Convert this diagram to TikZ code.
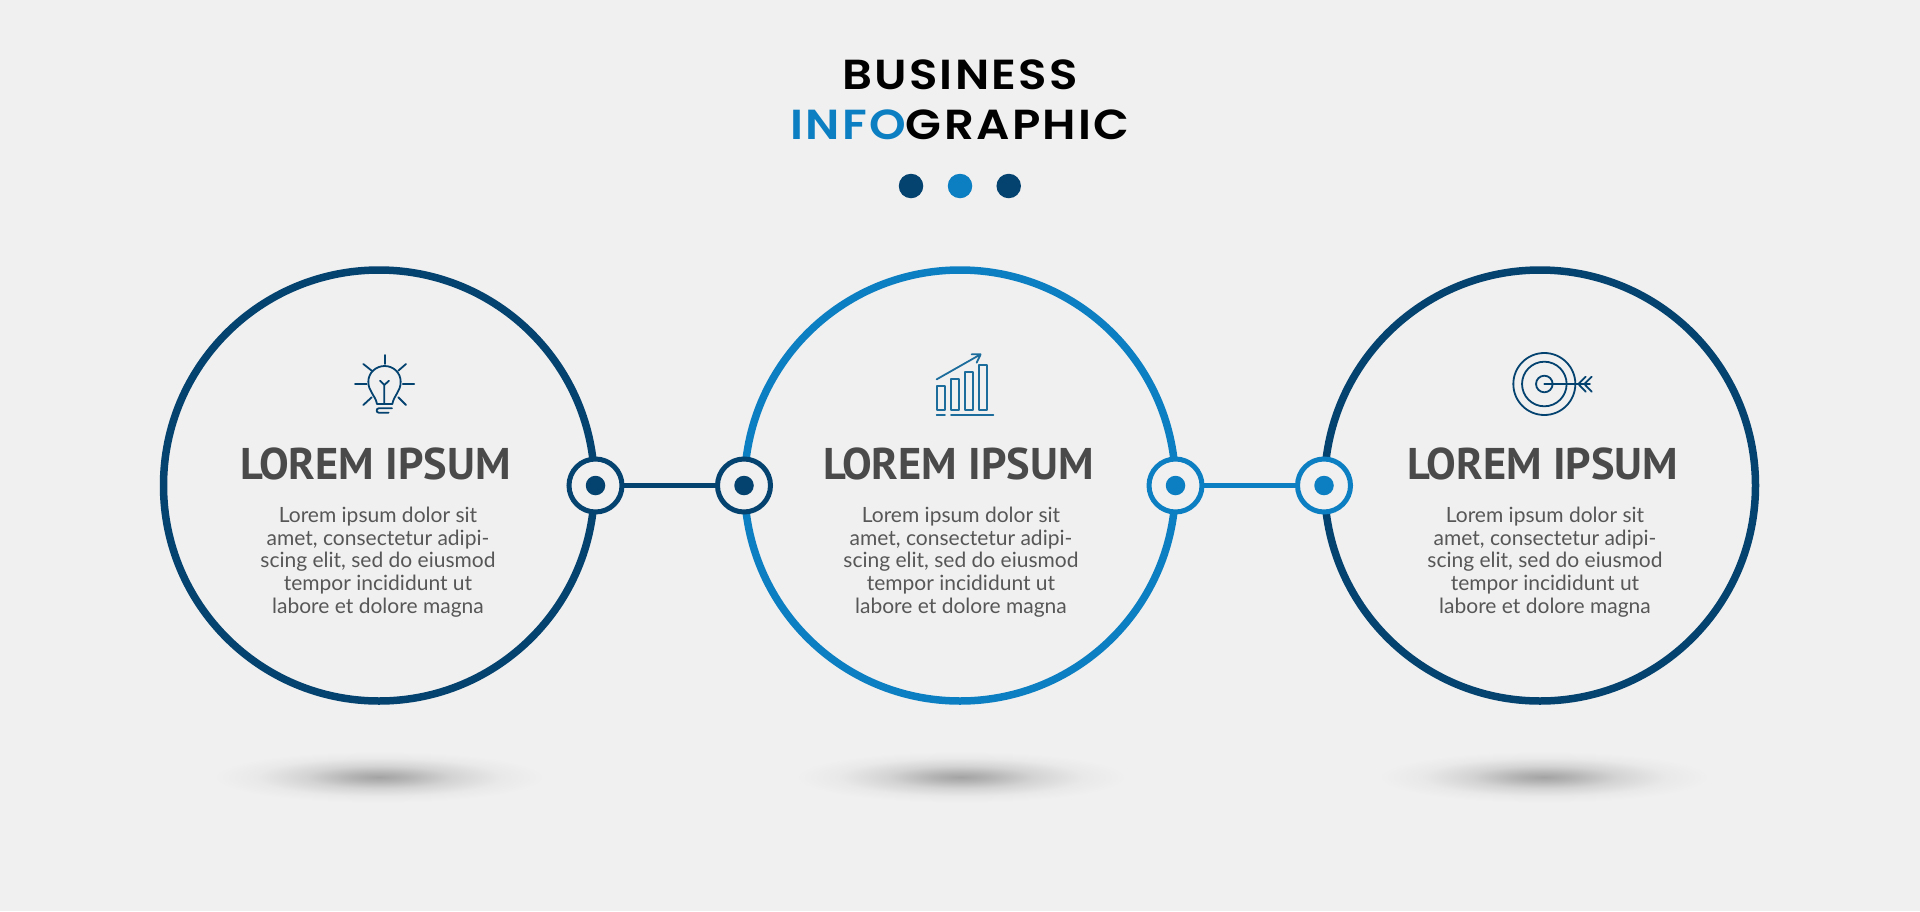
\documentclass[tikz,border=0pt]{standalone}
\usepackage{fontspec}
\setmainfont{Lato}
\newfontfamily\titlefont[LetterSpace=5]{Poppins SemiBold}
\newfontfamily\headfont{PT Sans}
\definecolor{bgc}{HTML}{F0F0F0}
\definecolor{navy}{HTML}{04426F}
\definecolor{sky}{HTML}{0C7FC2}
\definecolor{headc}{HTML}{4A4A4A}
\definecolor{bodyc}{HTML}{575757}
\definecolor{iconb}{HTML}{1C6D9C}
\pgfdeclareradialshading{softshadow}{\pgfpointorigin}{
  color(0bp)=(black!32!bgc);
  color(4bp)=(black!25!bgc);
  color(10bp)=(black!12!bgc);
  color(17bp)=(black!3!bgc);
  color(23bp)=(bgc);
  color(25bp)=(bgc)}
\newcommand{\titlescale}[1]{\scalebox{1.11}[1]{#1}}
\tikzset{
  bigring/.style={circle,draw=#1,line width=7.5pt,minimum size=431pt,inner sep=0pt,outer sep=0pt},
  joint/.style={circle,draw=#1,fill=bgc,line width=5pt,minimum size=53pt,inner sep=0pt,outer sep=0pt},
  jointdot/.style={circle,fill=#1,minimum size=19.5pt,inner sep=0pt,outer sep=0pt},
  topdot/.style={circle,fill=#1,minimum size=24.5pt,inner sep=0pt,outer sep=0pt},
  link/.style={draw=#1,line width=5pt},
  heading/.style={text=headc,font=\headfont\bfseries\fontsize{44.4}{48}\selectfont,inner sep=0pt},
  bodytext/.style={text=bodyc,font=\fontsize{21}{22.7}\selectfont,align=center,inner sep=0pt},
  titletext/.style={font=\titlefont\fontsize{42}{48}\selectfont,inner sep=0pt,anchor=base},
  iconline/.style={draw=#1,line width=1.8pt,line cap=round,line join=round},
  iconscale/.style={x=0.3333pt,y=-0.3333pt},
}
\begin{document}
\begin{tikzpicture}[x=1pt,y=-1pt]
\useasboundingbox (0,0) rectangle (1920,911);
\fill[bgc] (0,0) rectangle (1920,911);
% floor shadows
\shade[shading=softshadow] (379,777) ellipse [x radius=180pt,y radius=28pt];
\shade[shading=softshadow] (961,777) ellipse [x radius=180pt,y radius=28pt];
\shade[shading=softshadow] (1544,777) ellipse [x radius=180pt,y radius=28pt];
% title
\node[titletext] (t1) at (960,89) {\titlescale{BUSINESS}};
\node[titletext] (t2) at (960,139) {\titlescale{\textcolor{sky}{INFO}GRAPHIC}};
\node[topdot=navy] (d1) at (911,186) {};
\node[topdot=sky] (d2) at (960,186) {};
\node[topdot=navy] (d3) at (1008.7,186) {};
% rings
\node[bigring=navy] (r1) at (379,485.5) {};
\node[bigring=sky] (r2) at (960,485.5) {};
\node[bigring=navy] (r3) at (1540,485.5) {};
% joints
\node[joint=navy] (j1) at (595.5,485.5) {};
\node[joint=navy] (j2) at (744,485.5) {};
\node[joint=sky] (j3) at (1175.5,485.5) {};
\node[joint=sky] (j4) at (1324,485.5) {};
\node[jointdot=navy] at (j1) {};
\node[jointdot=navy] at (j2) {};
\node[jointdot=sky] at (j3) {};
\node[jointdot=sky] at (j4) {};
\draw[link=navy] (j1) -- (j2);
\draw[link=sky] (j3) -- (j4);
% texts
\node[heading] (h1) at (375.5,464) {LOREM IPSUM};
\node[heading] (h2) at (958.5,464) {LOREM IPSUM};
\node[heading] (h3) at (1543,464) {LOREM IPSUM};
\node[bodytext] (b1) at (378,562) {Lorem ipsum dolor sit\\amet, consectetur adipi-\\scing elit, sed do eiusmod\\tempor incididunt ut\\labore et dolore magna};
\node[bodytext] (b2) at (961,562) {Lorem ipsum dolor sit\\amet, consectetur adipi-\\scing elit, sed do eiusmod\\tempor incididunt ut\\labore et dolore magna};
\node[bodytext] (b3) at (1545,562) {Lorem ipsum dolor sit\\amet, consectetur adipi-\\scing elit, sed do eiusmod\\tempor incididunt ut\\labore et dolore magna};
% bulb icon
\begin{scope}[shift={(330,340)},iconscale]
\draw[iconline=navy] (165,45)--(165,72) (218,132)--(253,132) (75,132)--(110,132)
  (100,72)--(125,92) (228,72)--(205,92) (100,195)--(125,172) (228,195)--(205,172);
\draw[iconline=navy] (141,192) .. controls (136,165) and (115,155) .. (115,125)
  .. controls (115,98) and (138,78) .. (164,78)
  .. controls (190,78) and (212,98) .. (212,125)
  .. controls (212,155) and (192,165) .. (187,192) -- cycle;
\draw[iconline=navy] (150,122)--(163,135)--(177,122) (163,135)--(163,190);
\draw[iconline=navy] (186,205) -- (146,205) .. controls (138,205) and (138,218) .. (146,218) -- (176,218);
\end{scope}
% chart icon
\begin{scope}[shift={(910,340)},iconscale]
\draw[iconline=iconb] (80,137) rectangle (105,210) (123,118) rectangle (148,210)
  (165,95) rectangle (190,210) (207,75) rectangle (232,210);
\draw[iconline=iconb] (80,224)--(105,224) (123,224)--(250,224);
\draw[iconline=iconb] (80,118)--(212,43) (185,43)--(212,43)--(200,68);
\end{scope}
% target icon
\begin{scope}[shift={(1495,340)},iconscale]
\draw[iconline=navy] (148,132) circle [radius=31pt] (148,132) circle [radius=22.3pt] (148,132) circle [radius=8.3pt];
\draw[iconline=navy] (148,132)--(285,132);
\draw[iconline=navy] (272,110)--(250,132)--(272,155) (290,110)--(268,132)--(290,155);
\end{scope}
\end{tikzpicture}
\end{document}
